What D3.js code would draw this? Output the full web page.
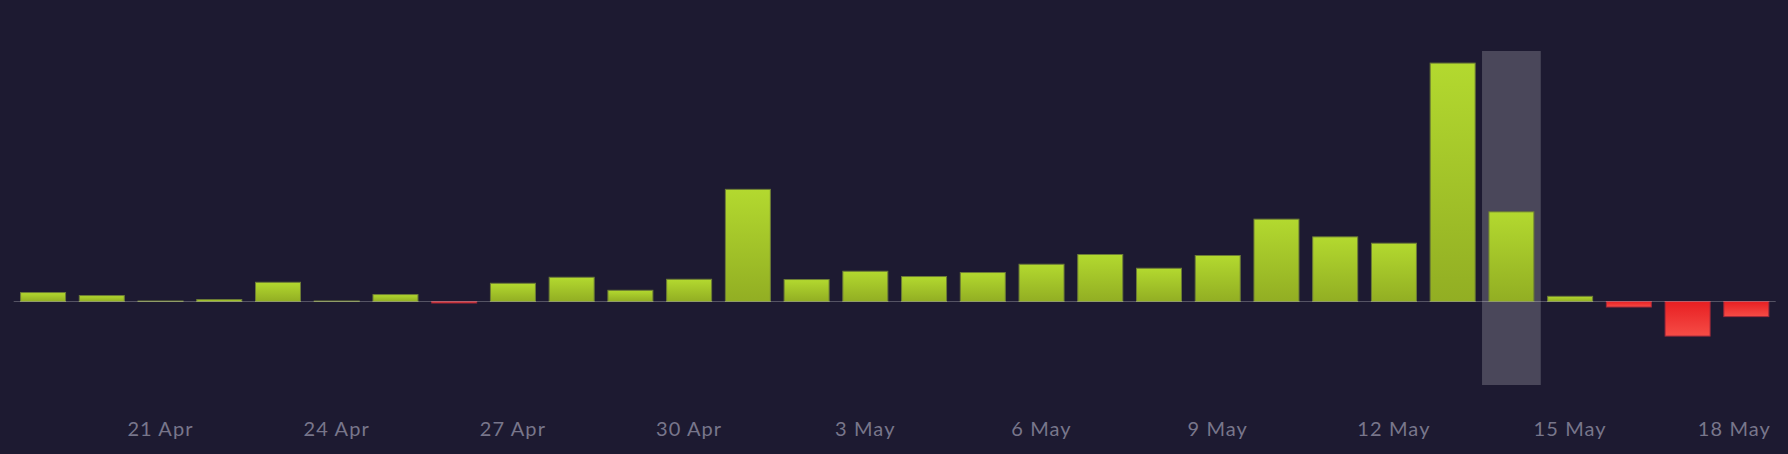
<!DOCTYPE html>
<html>
<head>
<meta charset="utf-8">
<script src="https://cdn.jsdelivr.net/npm/d3@7"></script>
<style>
  html, body { margin: 0; padding: 0; background: #1d1a31; }
  svg { display: block; }
</style>
</head>
<body>
<div id="chart"></div>
<script>
// --------------- Data ---------------

const DATES = [
  "2024-04-19", "2024-04-20", "2024-04-21", "2024-04-22", "2024-04-23",
  "2024-04-24", "2024-04-25", "2024-04-26", "2024-04-27", "2024-04-28",
  "2024-04-29", "2024-04-30", "2024-05-01", "2024-05-02", "2024-05-03",
  "2024-05-04", "2024-05-05", "2024-05-06", "2024-05-07", "2024-05-08",
  "2024-05-09", "2024-05-10", "2024-05-11", "2024-05-12", "2024-05-13",
  "2024-05-14", "2024-05-15", "2024-05-16", "2024-05-17", "2024-05-18",
];
const VALUES = [
  11.3, 7.7, 1.2, 2.9, 23.6, 1.2, 8.9, -2.4, 22.4, 29.6,
  14, 27.2, 134.9, 26.9, 36.8, 30.5, 35.3, 45.2, 56.9, 40.4,
  55.7, 99.2, 78, 70.4, 286.1, 108, 6.8, -7.2, -42, -18.7,
];
const TICK_DATES = [
  "2024-04-21", "2024-04-24", "2024-04-27", "2024-04-30", "2024-05-03",
  "2024-05-06", "2024-05-09", "2024-05-12", "2024-05-15", "2024-05-18",
];
const HIGHLIGHT_DATE = "2024-05-14";
const Y_DOMAIN = [-100, 300];

// --------------- Constants ---------------

const WIDTH = 1788;
const HEIGHT = 454;
const X_RANGE = [13.7, 1775.7];
const Y_RANGE = [385, 51];
const LABEL_Y = 436;
const LABEL_RIGHT = 1771;
const PADDING = 0.217;

// --------------- Prep SVG ---------------

const svg = d3
  .select("#chart")
  .append("svg")
  .attr("width", WIDTH)
  .attr("height", HEIGHT);

svg
  .append("rect")
  .attr("width", WIDTH)
  .attr("height", HEIGHT)
  .attr("fill", "#1d1a31");

const defs = svg.append("defs");
const addGradient = (id, top, bottom) => {
  const g = defs
    .append("linearGradient")
    .attr("id", id)
    .attr("x1", 0)
    .attr("y1", 0)
    .attr("x2", 0)
    .attr("y2", 1);
  g.append("stop").attr("offset", "0%").attr("stop-color", top);
  g.append("stop").attr("offset", "100%").attr("stop-color", bottom);
};
addGradient("grad-pos", "#b3d92f", "#92ae23");
addGradient("grad-neg", "#e81f22", "#f54c46");

const x = d3
  .scaleBand()
  .domain(DATES)
  .range(X_RANGE)
  .paddingInner(PADDING)
  .paddingOuter(PADDING / 2);

const y = d3.scaleLinear().domain(Y_DOMAIN).range(Y_RANGE);

const parse = d3.timeParse("%Y-%m-%d");
const fmt = d3.timeFormat("%-d %b");

// highlight column behind the bars
svg
  .append("rect")
  .attr("x", x(HIGHLIGHT_DATE) - (x.step() * PADDING) / 2)
  .attr("y", y(Y_DOMAIN[1]))
  .attr("width", x.step())
  .attr("height", y(Y_DOMAIN[0]) - y(Y_DOMAIN[1]))
  .attr("fill", "rgba(255,255,255,0.2)");

// bars
const data = DATES.map((d, i) => ({ date: d, value: VALUES[i] }));
svg
  .append("g")
  .selectAll("rect")
  .data(data)
  .join("rect")
  .attr("x", (d) => x(d.date) + 0.5)
  .attr("width", x.bandwidth() - 1)
  .attr("y", (d) => (d.value >= 0 ? y(d.value) + 0.5 : y(0)))
  .attr("height", (d) => Math.max(0.5, Math.abs(y(d.value) - y(0)) - 0.5))
  .attr("fill", (d) => (d.value >= 0 ? "url(#grad-pos)" : "url(#grad-neg)"))
  .attr("stroke", (d) => (d.value >= 0 ? "#6c7c36" : "#a0283a"))
  .attr("stroke-width", 1);

// zero line on top
svg
  .append("line")
  .attr("x1", X_RANGE[0])
  .attr("x2", X_RANGE[1])
  .attr("y1", y(0))
  .attr("y2", y(0))
  .attr("stroke", "rgba(255,255,255,0.25)")
  .attr("stroke-width", 1.2);

// date labels
const xAxis = d3
  .axisBottom(x)
  .tickValues(TICK_DATES)
  .tickSize(0)
  .tickFormat((d) => fmt(parse(d)));

const axisG = svg
  .append("g")
  .attr("transform", `translate(0,${LABEL_Y - 16})`)
  .call(xAxis);
axisG.select(".domain").remove();
axisG
  .selectAll("text")
  .attr("dy", 0)
  .attr("y", 16)
  .attr("fill", "#78768b")
  .attr("font-family", "Lato, 'Open Sans', sans-serif")
  .attr("font-size", "20px")
  .attr("letter-spacing", "1.1px");

// keep the last label inside the plot
axisG.selectAll(".tick").each(function () {
  const t = d3.select(this);
  const text = t.select("text");
  const box = this.getBBox();
  const m = /translate\(([-\d.]+)/.exec(t.attr("transform"));
  const cx = m ? +m[1] : 0;
  const right = cx + box.width / 2;
  if (right > LABEL_RIGHT) {
    text.attr("x", LABEL_RIGHT - right);
  }
});
</script>
</body>
</html>
